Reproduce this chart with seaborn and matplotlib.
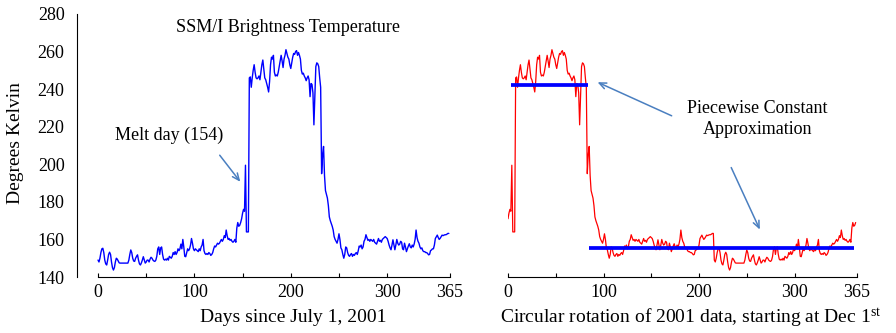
import numpy as np
import pandas as pd
import matplotlib
matplotlib.use("Agg")
import matplotlib.pyplot as plt
import seaborn as sns

# ---------------- data ----------------
days = [
    0, 1, 2, 3, 4, 5, 6, 7, 8, 9, 10, 11, 12, 13, 14, 15, 16, 17, 18, 19,
    20, 21, 22, 23, 24, 25, 26, 27, 28, 29, 30, 31, 32, 33, 34, 35, 36, 37, 38, 39,
    40, 41, 42, 43, 44, 45, 46, 47, 48, 49, 50, 51, 52, 53, 54, 55, 56, 57, 58, 59,
    60, 61, 62, 63, 64, 65, 66, 67, 68, 69, 70, 71, 72, 73, 74, 75, 76, 77, 78, 79,
    80, 81, 82, 83, 84, 85, 86, 87, 88, 89, 90, 91, 92, 93, 94, 95, 96, 97, 98, 99,
    100, 101, 102, 103, 104, 105, 106, 107, 108, 109, 110, 111, 112, 113, 114, 115, 116, 117, 118, 119,
    120, 121, 122, 123, 124, 125, 126, 127, 128, 129, 130, 131, 132, 133, 134, 135, 136, 137, 138, 139,
    140, 141, 142, 143, 144, 145, 146, 147, 148, 149, 150, 151, 152, 153, 154, 155, 156, 157, 158, 159,
    160, 161, 162, 163, 164, 165, 166, 167, 168, 169, 170, 171, 172, 173, 174, 175, 176, 177, 178, 179,
    180, 181, 182, 183, 184, 185, 186, 187, 188, 189, 190, 191, 192, 193, 194, 195, 196, 197, 198, 199,
    200, 201, 202, 203, 204, 205, 206, 207, 208, 209, 210, 211, 212, 213, 214, 215, 216, 217, 218, 219,
    220, 221, 222, 223, 224, 225, 226, 227, 228, 229, 230, 231, 232, 233, 234, 235, 236, 237, 238, 239,
    240, 241, 242, 243, 244, 245, 246, 247, 248, 249, 250, 251, 252, 253, 254, 255, 256, 257, 258, 259,
    260, 261, 262, 263, 264, 265, 266, 267, 268, 269, 270, 271, 272, 273, 274, 275, 276, 277, 278, 279,
    280, 281, 282, 283, 284, 285, 286, 287, 288, 289, 290, 291, 292, 293, 294, 295, 296, 297, 298, 299,
    300, 301, 302, 303, 304, 305, 306, 307, 308, 309, 310, 311, 312, 313, 314, 315, 316, 317, 318, 319,
    320, 321, 322, 323, 324, 325, 326, 327, 328, 329, 330, 331, 332, 333, 334, 335, 336, 337, 338, 339,
    340, 341, 342, 343, 344, 345, 346, 347, 348, 349, 350, 351, 352, 353, 354, 355, 356, 357, 358, 359,
    360, 361, 362, 363, 364,
]
kelvin = [
    149, 148, 150, 153, 155, 155.3, 153, 149, 147, 146.4, 149, 152, 153.2, 152, 148, 145, 143.7, 145, 148, 150,
    149.5, 148.5, 147.5, 147.4, 147.4, 147.4, 147.4, 147.4, 147.4, 147.4, 147.4, 147.4, 149, 152, 154.4, 153, 150, 148.5, 148.3, 150,
    151, 151.8, 149, 147, 146.4, 147.5, 149, 150.8, 149, 147.4, 148, 149, 149, 148, 149.5, 150.5, 150, 149, 148.5, 148.3,
    149, 151, 155, 156, 152, 155.5, 156, 152, 149.5, 149, 149.5, 149, 150, 149, 151, 150.5, 150, 151, 153, 152,
    153.5, 152, 153, 155, 154, 155, 157.5, 155, 160, 156, 151, 150.8, 153, 155, 154, 155, 157, 160.5, 158, 155,
    154, 155, 154.5, 154, 153.5, 155, 154, 156, 157, 160, 154, 152.5, 152, 152.5, 152, 153, 152.5, 151.5, 152, 153,
    155, 156.5, 156, 157, 158, 157.5, 158, 159, 160, 159, 160, 162, 161, 165, 162, 160, 160.5, 159.5, 160, 159,
    158.5, 159, 160, 158.5, 166, 169, 167, 167.5, 169, 171, 174, 176, 175, 199.5, 164, 164, 164, 246, 246.5, 241,
    246, 250, 253, 249, 246, 245.5, 246, 247, 245, 249, 253, 255.5, 251, 246, 245, 243, 241, 238.5, 244, 253,
    257, 256, 258, 249, 247, 247.5, 247, 249, 252, 255, 258, 255, 251.5, 256, 258, 261, 259, 257, 256, 253,
    251, 254, 257, 259, 258.5, 260, 260.5, 258, 259.5, 258, 256, 250, 248, 248.5, 247, 246, 244.5, 246, 247, 245,
    236, 243, 242.5, 238, 221, 236, 252, 254, 253.5, 252, 246, 241, 195, 205, 209.5, 194, 186, 184, 182, 178,
    172, 170, 168.5, 167, 165, 161.5, 160, 159, 158, 160, 163, 160, 155.5, 154.5, 152, 150, 152, 156, 155.5, 153,
    151.5, 151, 152, 152.5, 151, 152, 151.5, 152.5, 153, 152, 154, 156.5, 156, 157, 155, 156, 159, 160, 162.5, 161,
    159.5, 160, 159, 160, 159.5, 159, 160, 158.5, 158, 157.5, 159, 160.5, 159, 159.5, 158.5, 160, 160.5, 161, 161.5, 161,
    160.5, 159, 157, 155.5, 154.5, 157, 159.8, 157, 154.5, 157, 160, 158, 157, 157.5, 159, 158.5, 155, 154.5, 158, 156,
    153.5, 155, 156.5, 157.7, 156, 155.5, 157, 156, 157.5, 160, 165, 161, 159, 158, 156, 155, 155.5, 154, 153.5, 153.5,
    153, 153, 152.5, 151.8, 152, 154, 154.4, 155, 155, 157, 160.5, 161.4, 162.3, 161, 160, 160.6, 161.5, 162.3, 162, 162.3,
    162.5, 162.5, 162.8, 163.2, 163.2,
]
rotation_shift = 149          # circular shift used in the right panel (days)
seg_start = [3, 85]           # piecewise constant approximation
seg_end = [83.5, 362.5]
seg_level = [242, 155.5]

x_ticks = [0, 50, 100, 150, 200, 250, 300, 365]
x_ticklabels = ["0", "", "100", "", "200", "", "300", "365"]
y_ticks = [140, 160, 180, 200, 220, 240, 260, 280]

# ---------------- style ----------------
sns.set_style("ticks")
plt.rcParams["font.family"] = ["Liberation Serif", "DejaVu Serif"]
plt.rcParams["mathtext.fontset"] = "custom"
plt.rcParams["mathtext.rm"] = "Liberation Serif"
plt.rcParams["mathtext.it"] = "Liberation Serif:italic"
for k in ["text.color", "axes.labelcolor", "xtick.color", "ytick.color",
          "xtick.labelcolor", "ytick.labelcolor", "axes.edgecolor"]:
    plt.rcParams[k] = "black"

df = pd.DataFrame({"day": days, "K": kelvin})
rot = pd.DataFrame({"day": (np.array(days) - rotation_shift) % 365, "K": kelvin})

fig = plt.figure(figsize=(8.96, 3.33), dpi=100)
W, H = 896, 333
axL = fig.add_axes([77 / W, 1 - 277 / H, 373 / W, 263 / H])
axR = fig.add_axes([508 / W, 1 - 277 / H, 351 / W, 263 / H])

arrow_col = "#4a7fc0"

# ---- left panel ----
sns.lineplot(data=df, x="day", y="K", ax=axL, color="#0000ff", linewidth=1.0,
             estimator=None, sort=True)
axL.set_xlim(-21.8, 365.2)
axL.set_ylim(140, 280)
for s in ["top", "right"]:
    axL.spines[s].set_visible(False)
axL.spines["left"].set_bounds(140, 280)
axL.spines["bottom"].set_bounds(0, 365)
axL.set_xticks(x_ticks)
axL.set_xticklabels(x_ticklabels)
axL.set_yticks(y_ticks)
axL.tick_params(axis="x", direction="in", length=3, width=0.8, labelsize=13, pad=5,
                colors="black")
axL.tick_params(axis="y", direction="in", length=0, labelsize=13, pad=9, colors="black")
axL.set_xlabel("Days since July 1, 2001", fontsize=14, color="black")
axL.xaxis.set_label_coords((293 - 77) / 373, (277 - 318) / 263)
axL.xaxis.label.set_verticalalignment("center")
axL.set_ylabel("Degrees Kelvin", fontsize=14, color="black")
axL.yaxis.set_label_coords((15.5 - 77) / 373, (277 - 143) / 263)
axL.yaxis.label.set_verticalalignment("center")
axL.text((287.5 - 77) / 373, (277 - 28) / 263, "SSM/I Brightness Temperature",
         transform=axL.transAxes, ha="center", va="center", fontsize=13, color="black")
axL.text(17.6, 215.6, "Melt day (154)", ha="left", va="center", fontsize=13, color="black")
axL.annotate("", xy=(149.4, 189.5), xytext=(124.5, 206),
             arrowprops=dict(arrowstyle="->,head_length=0.5,head_width=0.22",
                             color=arrow_col, lw=1.1))

# ---- right panel ----
sns.lineplot(data=rot, x="day", y="K", ax=axR, color="#ff0000", linewidth=0.9,
             estimator=None, sort=True)
for x0, x1, lv in zip(seg_start, seg_end, seg_level):
    axR.hlines(lv, x0, x1, color="#0000ff", linewidth=2.7, capstyle="butt")
axR.set_xlim(0, 367.5)
axR.set_ylim(140, 280)
for s in ["top", "right", "left"]:
    axR.spines[s].set_visible(False)
axR.spines["bottom"].set_bounds(0, 365)
axR.set_xticks(x_ticks)
axR.set_xticklabels(x_ticklabels)
axR.set_yticks([])
axR.tick_params(axis="x", direction="in", length=3, width=0.8, labelsize=13, pad=5,
                colors="black")
axR.set_ylabel("")
axR.set_xlabel("Circular rotation of 2001 data, starting at Dec 1$^{\\mathrm{st}}$",
               fontsize=14, color="black")
axR.xaxis.set_label_coords((691 - 508) / 351, (277 - 318) / 263)
axR.xaxis.label.set_verticalalignment("center")
axR.text(261.3, 224.1, "Piecewise Constant\nApproximation", ha="center", va="center",
         fontsize=13, linespacing=1.25, color="black")
axR.annotate("", xy=(91.1, 244.3), xytext=(174, 225.2),
             arrowprops=dict(arrowstyle="->,head_length=0.5,head_width=0.22",
                             color=arrow_col, lw=1.1))
axR.annotate("", xy=(264.9, 163.9), xytext=(232.5, 199.6),
             arrowprops=dict(arrowstyle="->,head_length=0.5,head_width=0.22",
                             color=arrow_col, lw=1.1))

for ax in (axL, axR):
    for s in ax.spines.values():
        s.set_linewidth(0.8)
        s.set_color("black")

fig.savefig("out.png", dpi=100)
